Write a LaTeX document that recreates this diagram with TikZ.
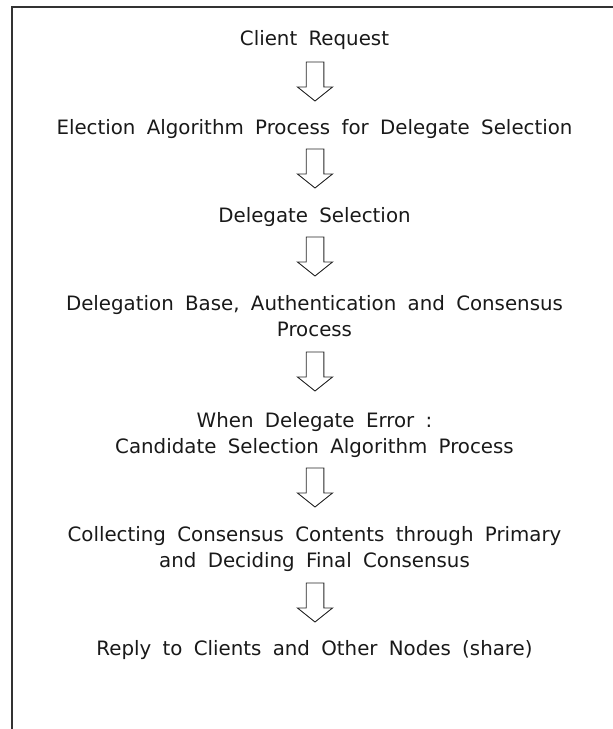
\documentclass[tikz,border=0pt]{standalone}
\usepackage{fontspec}
\setmainfont{DejaVu Sans}[WordSpace=1.8]
\begin{document}
\begin{tikzpicture}[x=1pt,y=-1pt,
  lbl/.style={font=\fontsize{19.8}{26}\selectfont, inner sep=0pt, anchor=base, align=center, text=black!90},
  frameline/.style={line width=1.4pt, draw=black!80},
  darr/.pic={\draw[line width=0.9pt, draw=black!85, line join=miter]
      (-8.8,0) -- (8.8,0) -- (8.8,25) -- (17.5,25) -- (0,39) -- (-17.5,25) -- (-8.8,25) -- cycle;}]
\useasboundingbox (0,0) rectangle (613,729);
\draw[frameline] (12,729) -- (12,7) -- (613,7);
\def\cx{314.5}
\node[lbl] (t1) at (\cx,45) {Client Request};
\pic at (315,62) {darr};
\node[lbl] (t2) at (\cx,134) {Election Algorithm Process for Delegate Selection};
\pic at (315,149) {darr};
\node[lbl] (t3) at (\cx,222) {Delegate Selection};
\pic at (315,237) {darr};
\node[lbl] (t4) at (\cx,336) {Delegation Base, Authentication and Consensus\\Process};
\pic at (315,352) {darr};
\node[lbl] (t5) at (\cx,453) {When Delegate Error :\\Candidate Selection Algorithm Process};
\pic at (315,468) {darr};
\node[lbl] (t6) at (\cx,567) {Collecting Consensus Contents through Primary\\and Deciding Final Consensus};
\pic at (315,583) {darr};
\node[lbl] (t7) at (\cx,655) {Reply to Clients and Other Nodes (share)};
\end{tikzpicture}
\end{document}
